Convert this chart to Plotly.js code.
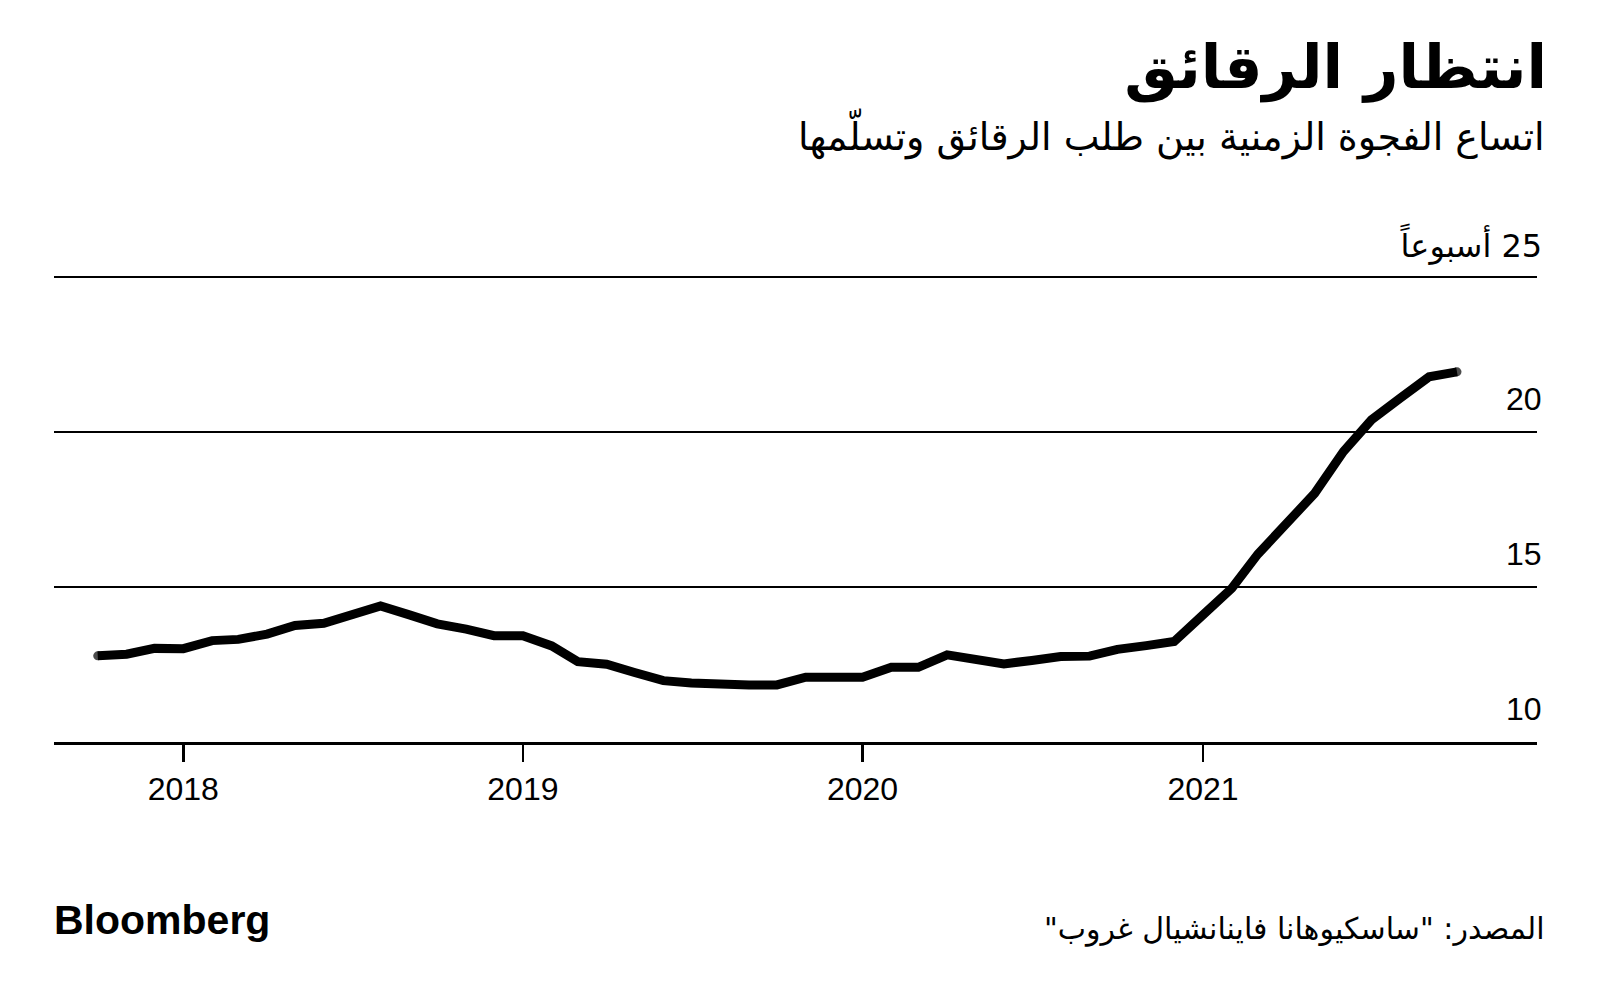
<!DOCTYPE html>
<html>
<head>
<meta charset="utf-8">
<script src="https://cdn.plot.ly/plotly-3.0.1.min.js"></script>
<style>html,body{margin:0;padding:0;background:#fff;}#chart{width:1600px;height:998px;}</style>
</head>
<body>
<div id="chart"></div>
<script>
// ---- data ----
const months = [
  '2017-10-01','2017-11-01','2017-12-01',
  '2018-01-01','2018-02-01','2018-03-01','2018-04-01','2018-05-01','2018-06-01',
  '2018-07-01','2018-08-01','2018-09-01','2018-10-01','2018-11-01','2018-12-01',
  '2019-01-01','2019-02-01','2019-03-01','2019-04-01','2019-05-01','2019-06-01',
  '2019-07-01','2019-08-01','2019-09-01','2019-10-01','2019-11-01','2019-12-01',
  '2020-01-01','2020-02-01','2020-03-01','2020-04-01','2020-05-01','2020-06-01',
  '2020-07-01','2020-08-01','2020-09-01','2020-10-01','2020-11-01','2020-12-01',
  '2021-01-01','2021-02-01','2021-03-01','2021-04-01','2021-05-01','2021-06-01',
  '2021-07-01','2021-08-01','2021-09-01','2021-10-01'
];
const leadTimeWeeks = [
  12.78,12.83,13.02,
  13.01,13.27,13.31,13.48,13.76,13.83,
  14.10,14.39,14.10,13.81,13.64,13.43,
  13.43,13.10,12.59,12.51,12.24,11.98,
  11.90,11.84,11.84,11.84,12.09,12.09,
  12.09,12.41,12.41,12.81,12.70,12.52,
  12.63,12.76,12.77,12.99,13.11,13.24,
  14.10,14.96,16.06,17.03,18.02,19.37,
  20.39,21.09,21.78,21.94
];
const yTickVals = [10, 15, 20, 25];
const yTickLabels = ['10', '15', '20', '\u200F25 أسبوعاً'];
const xTickVals = ['2018-01-01', '2019-01-01', '2020-01-01', '2021-01-01'];
const xTickLabels = ['2018', '2019', '2020', '2021'];

const titleText = 'انتظار الرقائق';
const subtitleText = 'اتساع الفجوة الزمنية بين طلب الرقائق وتسلّمها';
const sourceText = 'المصدر: "ساسكيوهانا فاينانشيال غروب"\u200F';
const brandText = 'Bloomberg';

// ---- layout geometry ----
const W = 1600, H = 998;
const L = 54, R = 1537, T = 268, B = 742;
const PW = R - L, PH = B - T;
const PX_PER_WEEK = 31;
const px2x = px => (px - L) / PW;
const py2y = py => (B - py) / PH;

const ARABIC = '"DejaVu Sans", "Noto Sans", sans-serif';
const LATIN = '"Liberation Sans", Arial, sans-serif';

const n = leadTimeWeeks.length;
const capSizes = leadTimeWeeks.map((v, i) => (i === 0 || i === n - 1) ? 9 : 0);

const trace = {
  x: months,
  y: leadTimeWeeks,
  type: 'scatter',
  mode: 'lines+markers',
  line: {color: '#000', width: 9, shape: 'linear'},
  marker: {color: '#000', size: capSizes, line: {width: 0}},
  hoverinfo: 'skip'
};

const annotations = [];
yTickVals.forEach((v, i) => {
  annotations.push({
    xref: 'paper', yref: 'y', x: 1, y: v, xshift: 7, yshift: 33,
    xanchor: 'right', yanchor: 'middle', showarrow: false,
    text: yTickLabels[i],
    font: {family: i === 3 ? ARABIC : LATIN, size: 32, color: '#000'}
  });
});
annotations.push({
  xref: 'paper', yref: 'paper', x: px2x(1547), y: py2y(134),
  xanchor: 'right', yanchor: 'middle', showarrow: false,
  text: subtitleText,
  font: {family: ARABIC, size: 38, color: '#000'}
});
annotations.push({
  xref: 'paper', yref: 'paper', x: px2x(1546), y: py2y(929),
  xanchor: 'right', yanchor: 'middle', showarrow: false,
  text: sourceText,
  font: {family: ARABIC, size: 30, color: '#000'}
});
annotations.push({
  xref: 'paper', yref: 'paper', x: px2x(52), y: py2y(920),
  xanchor: 'left', yanchor: 'middle', showarrow: false,
  text: '<b>' + brandText + '</b>',
  font: {family: LATIN, size: 41, color: '#000'}
});

const layout = {
  width: W, height: H,
  paper_bgcolor: '#fff', plot_bgcolor: '#fff',
  margin: {l: L, r: W - R, t: T, b: H - B, pad: 0},
  showlegend: false,
  title: {
    text: '<b>' + titleText + '</b>',
    xref: 'container', yref: 'container',
    x: 1547 / W, xanchor: 'right',
    y: 1 - 67 / H, yanchor: 'middle',
    font: {family: ARABIC, size: 60, color: '#000'}
  },
  xaxis: {
    type: 'date',
    range: ['2017-08-15', '2021-12-26'],
    tickmode: 'array', tickvals: xTickVals, ticktext: xTickLabels,
    ticks: 'outside', ticklen: 17, tickwidth: 2.5, tickcolor: '#000',
    showline: true, linecolor: '#000', linewidth: 3,
    showgrid: false, zeroline: false,
    tickfont: {family: LATIN, size: 32, color: '#000'},
    fixedrange: true
  },
  yaxis: {
    range: [10, 10 + PH / PX_PER_WEEK],
    tickmode: 'array', tickvals: [15, 20, 25],
    showticklabels: false, ticks: '',
    showgrid: true, gridcolor: '#000', gridwidth: 2.2,
    zeroline: false, showline: false,
    fixedrange: true
  },
  annotations: annotations
};

Plotly.newPlot('chart', [trace], layout, {displayModeBar: false, staticPlot: true});
</script>
</body>
</html>
